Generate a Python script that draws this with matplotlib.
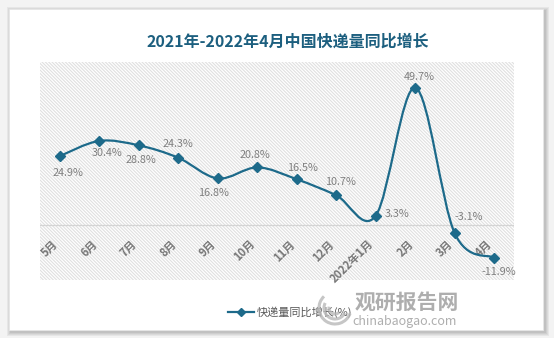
import numpy as np
import matplotlib
matplotlib.use("Agg")
import matplotlib.pyplot as plt
from matplotlib.path import Path
from matplotlib.patches import PathPatch, Rectangle, Arc
from matplotlib.lines import Line2D

plt.rcParams['font.family'] = ['Noto Sans CJK SC', 'DejaVu Sans']
plt.rcParams['hatch.color'] = '#e0e0e0'
plt.rcParams['hatch.linewidth'] = 0.8

# 2021-05 .. 2022-04 express delivery volume, YoY growth (%)
months = ['5月', '6月', '7月', '8月', '9月', '10月', '11月', '12月',
          '2022年1月', '2月', '3月', '4月']
growth = [24.9, 30.4, 28.8, 24.3, 16.8, 20.8, 16.5, 10.7, 3.3, 49.7, -3.1, -11.9]
# label offsets in pixels (dx, dy), alignment
label_pos = [(8, -17, 'center'), (8, -12, 'center'), (2, -15, 'center'),
             (0, 14, 'center'), (-4, -15, 'center'), (-2, 12, 'center'),
             (6, 11, 'center'), (4, 13, 'center'), (9, 2, 'left'),
             (4, 11, 'center'), (14, 16, 'center'), (5, -14, 'center')]

line_color = '#1d6a8a'
title_color = '#1c5f7f'

fig = plt.figure(figsize=(5.54, 3.38), dpi=100, facecolor='#f3f3f3')

# card with soft shadow
W, H = 554, 338
for k, a in enumerate([0.05, 0.05, 0.05, 0.06]):
    pad = 4 - k
    fig.patches.append(Rectangle(((9 - pad + 2) / W, 1 - (330 + pad + 2) / H),
                                 (534 + 2 * pad) / W, (321 + 2 * pad) / H,
                                 transform=fig.transFigure, facecolor='#000000',
                                 alpha=a, edgecolor='none', zorder=-3))
fig.patches.append(Rectangle((9 / W, 1 - 330 / H), 534 / W, 321 / H,
                             transform=fig.transFigure, facecolor='white',
                             edgecolor='#e6e6e6', linewidth=0.6, zorder=-2))

ax = fig.add_axes([40 / W, 1 - 280 / H, 474 / W, 218 / H])
ax.set_facecolor('white')
ax.add_patch(Rectangle((0, 0), 1, 1, transform=ax.transAxes, facecolor='white',
                       hatch='\\' * 10, edgecolor='#e0e0e0', linewidth=0, zorder=0))
for s in ax.spines.values():
    s.set_visible(False)
ax.set_xticks([])
ax.set_yticks([])
ax.set_xlim(-0.5, len(months) - 0.5)
ax.set_ylim(-20, 59)

ax.axhline(0, color='#d4d4d4', linewidth=0.9, zorder=1)

# smoothed line: Catmull-Rom converted to cubic Bezier segments
x = np.arange(len(growth), dtype=float)
y = np.array(growth, dtype=float)
pts = np.column_stack([x, y])
ext = np.vstack([pts[0], pts, pts[-1]])
verts = [tuple(pts[0])]
codes = [Path.MOVETO]
for i in range(len(pts) - 1):
    p0, p1, p2, p3 = ext[i], ext[i + 1], ext[i + 2], ext[i + 3]
    c1 = p1 + (p2 - p0) / 6
    c2 = p2 - (p3 - p1) / 6
    verts += [tuple(c1), tuple(c2), tuple(p2)]
    codes += [Path.CURVE4] * 3
ax.add_patch(PathPatch(Path(verts, codes), facecolor='none', edgecolor=line_color,
                       linewidth=1.6, zorder=3, capstyle='round'))
ax.plot(x, y, linestyle='none', marker='D', markersize=5, color=line_color, zorder=4)

for xi, yi, (dx, dy, ha) in zip(x, y, label_pos):
    ax.annotate(f'{yi:.1f}%', (xi, yi), xytext=(dx, dy), textcoords='offset pixels',
                ha=ha, va='center', fontsize=7.8, color='#7f7f7f', zorder=5)

# category labels hanging below the zero line
for xi, m in zip(x, months):
    ax.text(xi + 0.02, -4.6, m, rotation=45, ha='right', va='top', fontsize=8,
            color='#777777', fontweight='bold', zorder=2)

fig.text(288 / W, 1 - 42 / H, '2021年-2022年4月中国快递量同比增长', ha='center',
         va='center', fontsize=11.5, fontweight='bold', color=title_color, zorder=5)

handle = Line2D([], [], color=line_color, linewidth=1.6, marker='D', markersize=4)
fig.legend([handle], ['快递量同比增长(%)'], loc='center', frameon=False,
           bbox_to_anchor=(290 / W, 1 - 312 / H), fontsize=8, handlelength=2.4,
           handletextpad=0.2, labelcolor='#595959')

# site mark
for r, t1, t2 in [(32, 120, 330), (22, 140, 320), (12, 160, 300)]:
    fig.add_artist(Arc((335 / W, 1 - 308 / H), r / W, r / H, theta1=t1, theta2=t2,
                       transform=fig.transFigure, color='#b8b8b8', linewidth=2.2,
                       alpha=0.8, zorder=6))
fig.text(407 / W, 1 - 302 / H, '观研报告网', ha='center', va='center', fontsize=15,
         fontweight='bold', color='#9a9a9a', alpha=0.8, zorder=6)
fig.text(405 / W, 1 - 322 / H, 'chinabaogao.com', ha='center', va='center',
         fontsize=9, color='#9a9a9a', alpha=0.8, zorder=6)

fig.savefig('out.png', dpi=100, facecolor=fig.get_facecolor())
